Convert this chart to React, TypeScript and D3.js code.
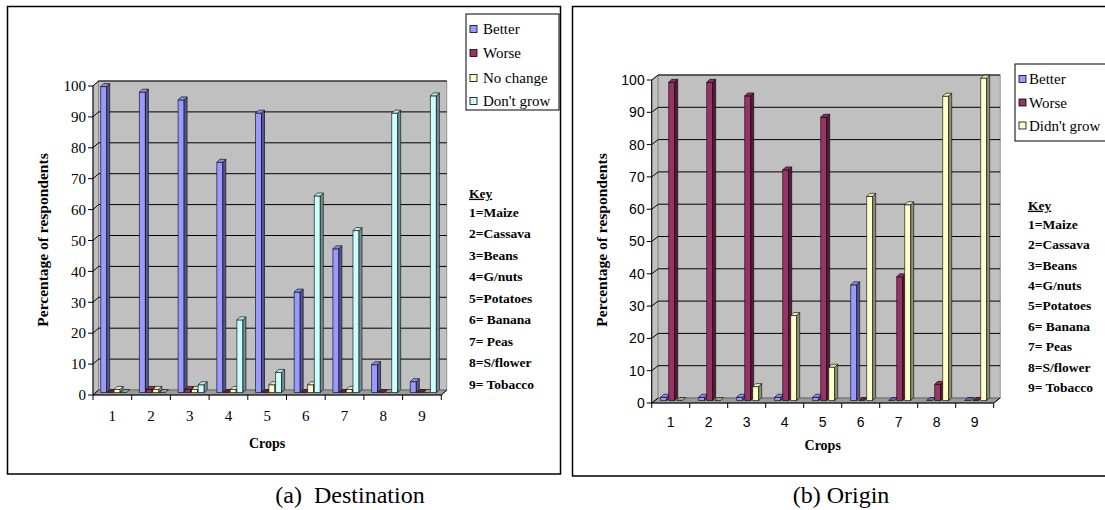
import React from 'react';
import * as d3 from 'd3';

const crops = ['1', '2', '3', '4', '5', '6', '7', '8', '9'];
const yTicks = [0, 10, 20, 30, 40, 50, 60, 70, 80, 90, 100];
const keyLines = ['1=Maize', '2=Cassava', '3=Beans', '4=G/nuts', '5=Potatoes', '6= Banana', '7= Peas', '8=S/flower', '9= Tobacco'];

const destSeries = ['Better', 'Worse', 'No change', "Don't grow"];
const destBetter = [99, 97.2, 94.7, 74.5, 90.4, 32.5, 46.5, 9, 3.5];
const destWorse = [0, 1, 1, 0, 0, 0, 0, 0, 0];
const destNoChange = [1, 1, 1, 1, 2.5, 2.5, 1, 0, 0];
const destDontGrow = [0, 0, 2.5, 23.5, 6.5, 63.6, 52.4, 90.4, 96];

const originSeries = ['Better', 'Worse', "Didn't grow"];
const originBetter = [1, 1, 1, 1, 1, 35.8, 0, 0, 0];
const originWorse = [98.5, 98.5, 94.3, 71.4, 87.7, 0, 38.3, 5, 0];
const originDidntGrow = [0, 0, 4.3, 26.3, 10.3, 63.2, 60.6, 94.2, 99.8];

const cBetter = '#9999FF';
const cWorse = '#993366';
const cNoChange = '#FFFFCC';
const cDontGrow = '#CCFFFF';

type Cfg = {
  series: string[];
  values: number[][];
  colors: string[];
  axisX: number;
  y0: number;
  y100: number;
  catW: number;
  dx: number;
  dy: number;
  barOffsets: number[];
  barW: number;
  tickFont: string;
  tickSize: number;
  tickLabelY: number;
  cropsY: number;
  titleX: number;
  titleY: number;
  legend: { x: number; y: number; w: number; h: number; items: number[]; swX: number; txX: number };
  keyX: number;
  keyY: number;
  keyStep: number;
};

const SERIF = "'Liberation Serif', 'Times New Roman', Times, 'DejaVu Serif', serif";
const SANS = "'Liberation Sans', Arial, Helvetica, sans-serif";

function T(props: any) {
  const { family, ...rest } = props;
  return <text {...rest} style={{ fontFamily: family }} />;
}

function Chart3D({ cfg }: { cfg: Cfg }) {
  const xEnd = cfg.axisX + cfg.catW * crops.length;
  const x = d3.scaleBand<string>().domain(crops).range([cfg.axisX, xEnd]).paddingInner(0).paddingOuter(0);
  const y = d3.scaleLinear().domain([0, 100]).range([cfg.y0, cfg.y100]);
  const { dx, dy } = cfg;
  const bdx = 3, bdy = 3;
  const bars: React.ReactNode[] = [];
  crops.forEach((c, ci) => {
    cfg.values.forEach((vals, si) => {
      const v = vals[ci];
      const color = cfg.colors[si];
      const x0 = (x(c) as number) + cfg.barOffsets[si];
      const x1 = x0 + cfg.barW;
      const base = cfg.y0 - dy / 2;
      const top = y(v) - dy / 2;
      const side = d3.color(color)!.darker(1.6).formatHex();
      const topC = d3.color(color)!.darker(v === 0 ? 1.2 : 0.25).formatHex();
      bars.push(
        <g key={`${si}-${ci}`} stroke="#000" strokeWidth={0.6} strokeLinejoin="round">
          {v > 0 && <rect x={x0} y={top} width={cfg.barW} height={base - top} fill={color} />}
          {v > 0 && <polygon points={`${x1},${top} ${x1 + bdx},${top - bdy} ${x1 + bdx},${base - bdy} ${x1},${base}`} fill={side} />}
          <polygon points={`${x0},${top} ${x1},${top} ${x1 + bdx},${top - bdy} ${x0 + bdx},${top - bdy}`} fill={topC} />
        </g>
      );
    });
  });
  const L = cfg.legend;
  return (
    <g>
      <polygon points={`${cfg.axisX},${cfg.y0} ${cfg.axisX + dx},${cfg.y0 - dy} ${cfg.axisX + dx},${cfg.y100 - dy} ${cfg.axisX},${cfg.y100}`} fill="#C0C0C0" stroke="#808080" strokeWidth={0.8} />
      <rect x={cfg.axisX + dx} y={cfg.y100 - dy} width={xEnd - cfg.axisX} height={cfg.y0 - cfg.y100} fill="#C0C0C0" stroke="#808080" strokeWidth={0.8} />
      <polygon points={`${cfg.axisX},${cfg.y0} ${xEnd},${cfg.y0} ${xEnd + dx},${cfg.y0 - dy} ${cfg.axisX + dx},${cfg.y0 - dy}`} fill="#9a9a9a" stroke="#606060" strokeWidth={0.8} />
      {yTicks.map((t) => (
        <g key={t} stroke="#000" strokeWidth={1}>
          {t > 0 && <line x1={cfg.axisX + dx} x2={xEnd + dx} y1={y(t) - dy} y2={y(t) - dy} />}
          <line x1={cfg.axisX} x2={cfg.axisX + dx} y1={y(t)} y2={y(t) - dy} />
          <line x1={cfg.axisX - 5} x2={cfg.axisX} y1={y(t)} y2={y(t)} />
        </g>
      ))}
      {bars}
      <line x1={cfg.axisX} x2={cfg.axisX} y1={cfg.y0} y2={cfg.y100} stroke="#000" strokeWidth={1} />
      <line x1={cfg.axisX} x2={xEnd} y1={cfg.y0} y2={cfg.y0} stroke="#000" strokeWidth={1} />
      <line x1={xEnd} x2={xEnd + dx} y1={cfg.y0} y2={cfg.y0 - dy} stroke="#000" strokeWidth={1} />
      {crops.map((c, i) => (
        <line key={c} x1={cfg.axisX + i * cfg.catW} x2={cfg.axisX + i * cfg.catW} y1={cfg.y0} y2={cfg.y0 + 5} stroke="#000" strokeWidth={1} />
      ))}
      <line x1={xEnd} x2={xEnd} y1={cfg.y0} y2={cfg.y0 + 5} stroke="#000" strokeWidth={1} />
      {yTicks.map((t) => (
        <T key={t} x={cfg.axisX - 7} y={y(t)} dy="0.35em" textAnchor="end" family={cfg.tickFont} fontSize={cfg.tickSize}>{t}</T>
      ))}
      {crops.map((c) => (
        <T key={c} x={(x(c) as number) + cfg.catW / 2} y={cfg.tickLabelY} dy="0.35em" textAnchor="middle" family={cfg.tickFont} fontSize={cfg.tickSize}>{c}</T>
      ))}
      <T x={(cfg.axisX + xEnd) / 2} y={cfg.cropsY} dy="0.35em" textAnchor="middle" family={SERIF} fontWeight="bold" fontSize={14}>Crops</T>
      <T transform={`translate(${cfg.titleX},${cfg.titleY}) rotate(-90)`} dy="0.35em" textAnchor="middle" family={SERIF} fontWeight="bold" fontSize={15.5}>Percentage of respondents</T>
      <rect x={L.x} y={L.y} width={L.w} height={L.h} fill="#fff" stroke="#000" strokeWidth={1} />
      {cfg.series.map((s, i) => (
        <g key={s}>
          <rect x={L.swX} y={L.items[i] - 3.5} width={7} height={7} fill={cfg.colors[i]} stroke="#000" strokeWidth={0.8} />
          <T x={L.txX} y={L.items[i]} dy="0.35em" family={SERIF} fontSize={15}>{s}</T>
        </g>
      ))}
      <T x={cfg.keyX} y={cfg.keyY} dy="0.35em" family={SERIF} fontWeight="bold" fontSize={13.5} textDecoration="underline">Key</T>
      {keyLines.map((k, i) => (
        <T key={k} x={cfg.keyX} y={cfg.keyY + 19 + i * cfg.keyStep} dy="0.35em" family={SERIF} fontWeight="bold" fontSize={13.5}>{k}</T>
      ))}
    </g>
  );
}

const destCfg: Cfg = {
  series: destSeries,
  values: [destBetter, destWorse, destNoChange, destDontGrow],
  colors: [cBetter, cWorse, cNoChange, cDontGrow],
  axisX: 93,
  y0: 395,
  y100: 86,
  catW: 38.7,
  dx: 5.5,
  dy: 5,
  barOffsets: [7.7, 14.4, 21.1, 27.8],
  barW: 6,
  tickFont: SERIF,
  tickSize: 15,
  tickLabelY: 416,
  cropsY: 443,
  titleX: 43,
  titleY: 240,
  legend: { x: 466, y: 14, w: 93, h: 96, items: [29, 53, 78, 101], swX: 470, txX: 483 },
  keyX: 469,
  keyY: 193,
  keyStep: 21.5,
};

const originCfg: Cfg = {
  series: originSeries,
  values: [originBetter, originWorse, originDidntGrow],
  colors: [cBetter, cWorse, cNoChange],
  axisX: 651.7,
  y0: 403,
  y100: 80,
  catW: 38,
  dx: 6.5,
  dy: 5,
  barOffsets: [9, 17, 25],
  barW: 6,
  tickFont: SANS,
  tickSize: 14,
  tickLabelY: 422,
  cropsY: 445,
  titleX: 602,
  titleY: 240,
  legend: { x: 1015, y: 64, w: 100, h: 77, items: [79, 102.5, 125.5], swX: 1019, txX: 1029 },
  keyX: 1028,
  keyY: 205,
  keyStep: 20.4,
};

export default function App() {
  return (
    <div style={{ position: 'fixed', left: 0, top: 0 }}>
      <svg width={1105} height={510} viewBox="0 0 1105 510" style={{ display: 'block', background: '#fff' }}>
        <rect x={7.5} y={6.5} width={553} height={467.5} fill="#fff" stroke="#000" strokeWidth={1.5} />
        <rect x={572.5} y={6.5} width={540} height={469.5} fill="#fff" stroke="#000" strokeWidth={1.5} />
        <Chart3D cfg={destCfg} />
        <Chart3D cfg={originCfg} />
        <T x={350} y={503} textAnchor="middle" family={SERIF} fontSize={24} xmlSpace="preserve">(a)  Destination</T>
        <T x={841} y={503} textAnchor="middle" family={SERIF} fontSize={24} xmlSpace="preserve">(b) Origin</T>
      </svg>
    </div>
  );
}
